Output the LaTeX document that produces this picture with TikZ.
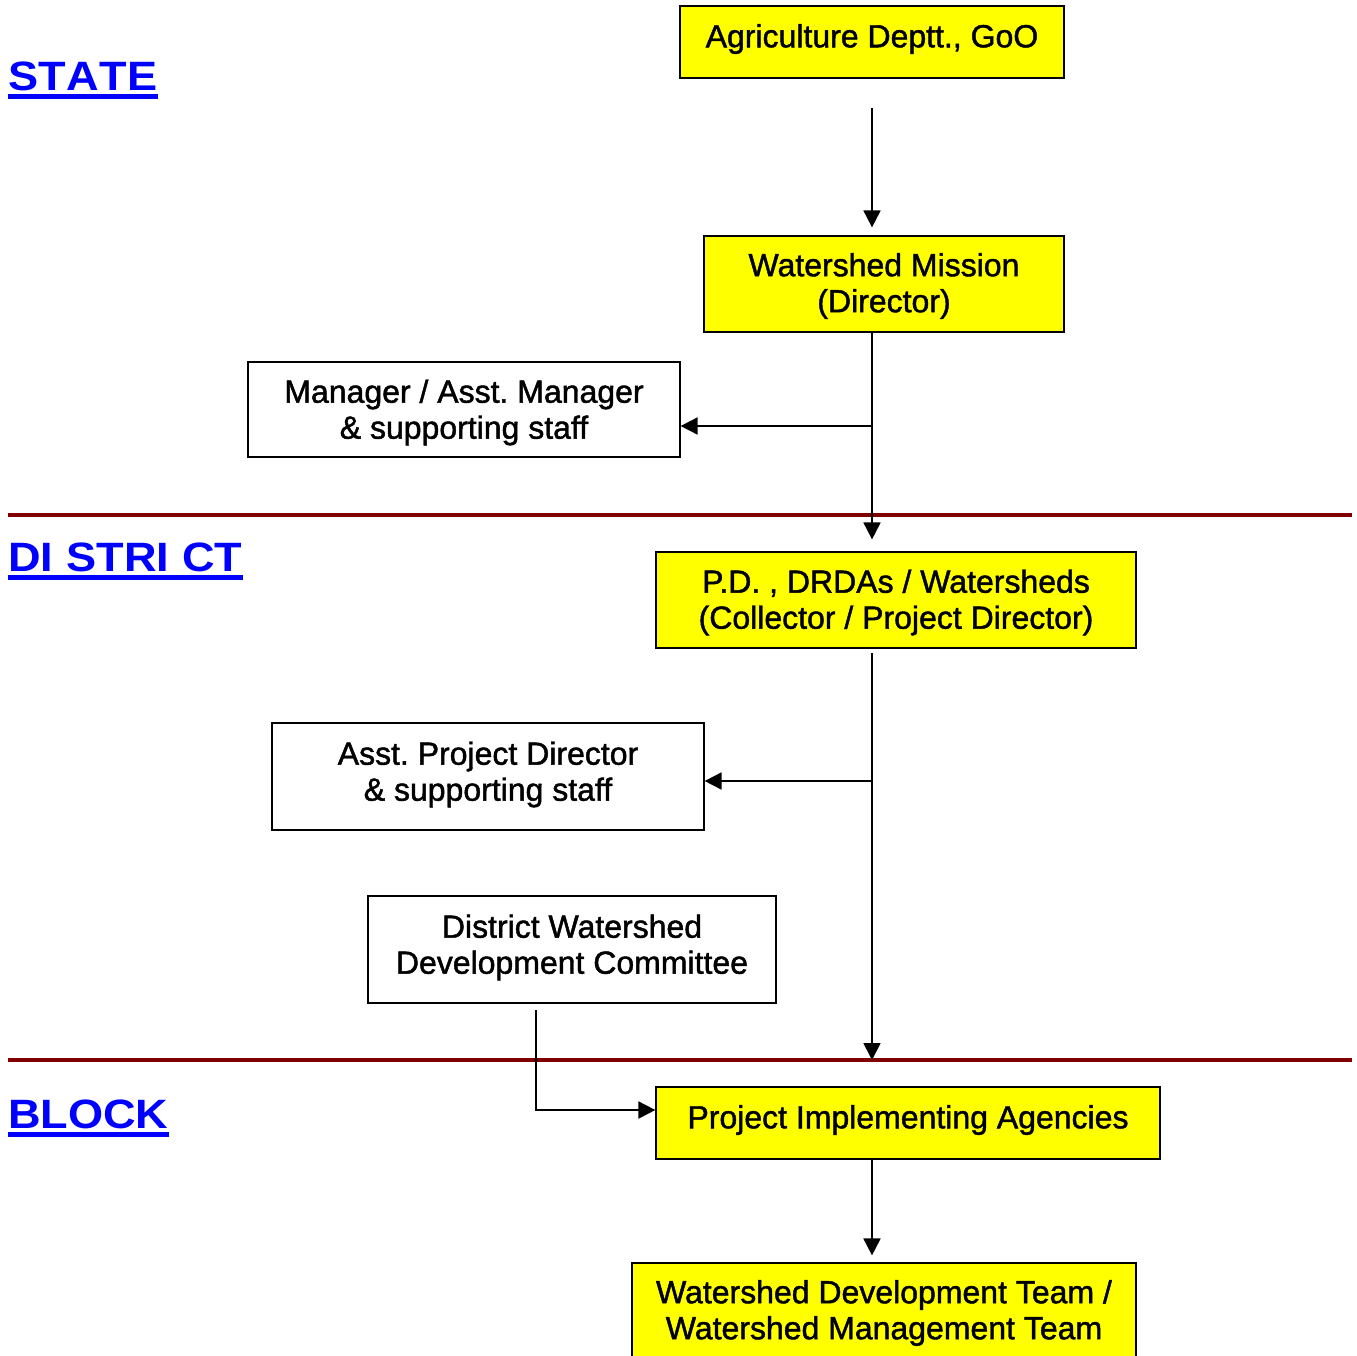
\documentclass[tikz,border=0pt]{standalone}
\usepackage{fontspec}
\setmainfont{Liberation Sans}
\newfontfamily\boxfont{Liberation Sans}[FakeBold=1.4]
\usepackage{graphicx}
\usetikzlibrary{arrows.meta}
\definecolor{lvlblue}{RGB}{0,0,255}
\definecolor{sepred}{RGB}{128,0,0}
\definecolor{boxyellow}{RGB}{255,255,0}
\newcommand\lvltext[1]{\scalebox{1.1}[1]{\setbox0\hbox{#1}\rlap{\rule[-9pt]{\wd0}{5pt}}\box0}}
\newcommand\shiftup[2]{\raisebox{#1}[\height][\depth]{#2}}
\begin{document}
\frenchspacing
\begin{tikzpicture}[x=1pt,y=-1pt,
  box/.style={draw=black, line width=1.2pt, inner sep=0pt, align=center,
    font=\boxfont\fontsize{32}{36}\selectfont, text=black},
  ybox/.style={box, fill=boxyellow},
  wbox/.style={box, fill=white},
  conn/.style={line width=1.8pt, -{Triangle[length=17pt,width=17pt]}},
  sep/.style={line width=4pt, draw=sepred},
  lvl/.style={anchor=base west, inner sep=0pt, text=lvlblue,
    font=\fontsize{41}{41}\selectfont\bfseries}]
\useasboundingbox (0,0) rectangle (1357,1355);

% level labels
\node[lvl] (state) at (8,90) {\lvltext{S\kern0.4pt T\kern0.4pt A\kern0.4pt T\kern0.4pt E}};
\node[lvl] (district) at (8,571) {\lvltext{DI\kern12pt STRI\kern12pt CT}};
\node[lvl] (block) at (8,1128) {\lvltext{BLOCK}};

% separators
\coordinate (s1l) at (8,515);  \coordinate (s1r) at (1352,515);
\coordinate (s2l) at (8,1060); \coordinate (s2r) at (1352,1060);
\draw[sep] (s1l) -- (s1r);
\draw[sep] (s2l) -- (s2r);

% boxes
\node[ybox, minimum width=384pt, minimum height=72pt] (agri) at (872,42)
  {\shiftup{3pt}{Agriculture Deptt., GoO}};
\node[ybox, minimum width=360pt, minimum height=96pt] (wm) at (884,284)
  {\shiftup{-3pt}{\begin{tabular}{@{}c@{}}Watershed Mission\\(Director)\end{tabular}}};
\node[wbox, minimum width=432pt, minimum height=95pt] (mgr) at (464,409.5)
  {\shiftup{-4pt}{\begin{tabular}{@{}c@{}}Manager / Asst. Manager\\\& supporting staff\end{tabular}}};
\node[ybox, minimum width=480pt, minimum height=96pt] (pd) at (896,600)
  {\shiftup{-3.5pt}{\begin{tabular}{@{}c@{}}P.D. , DRDAs / Watersheds\\(Collector / Project Director)\end{tabular}}};
\node[wbox, minimum width=432pt, minimum height=107pt] (apd) at (488,776.5)
  {\shiftup{1pt}{\begin{tabular}{@{}c@{}}Asst. Project Director\\\& supporting staff\end{tabular}}};
\node[wbox, minimum width=408pt, minimum height=107pt] (dwdc) at (572,949.5)
  {\shiftup{1pt}{\begin{tabular}{@{}c@{}}District Watershed\\Development Committee\end{tabular}}};
\node[ybox, minimum width=504pt, minimum height=72pt] (pia) at (908,1123)
  {\shiftup{3pt}{Project Implementing Agencies}};
\node[ybox, minimum width=504pt, minimum height=96pt] (wdt) at (884,1311)
  {\shiftup{-3pt}{\begin{tabular}{@{}c@{}}Watershed Development Team /\\Watershed Management Team\end{tabular}}};

% connectors
\coordinate (a1) at (872,108);
\draw[conn, shorten >=8pt] (a1) -- (a1 |- wm.north);
\draw[conn, shorten >=12pt] (a1 |- wm.south) -- (a1 |- pd.north);
\coordinate (b1) at (872,426);
\draw[conn] (b1) -- (b1 -| mgr.east);
\coordinate (c1) at (872,653);
\coordinate (c2) at (872,1060);
\draw[conn] (c1) -- (c2);
\coordinate (b2) at (872,781);
\draw[conn] (b2) -- (b2 -| apd.east);
\coordinate (d1) at (536,1010);
\coordinate (d2) at (536,1110);
\draw[conn] (d1) -- (d2) -- (d2 -| pia.west);
\draw[conn, shorten >=7pt] (a1 |- pia.south) -- (a1 |- wdt.north);
\end{tikzpicture}
\end{document}
